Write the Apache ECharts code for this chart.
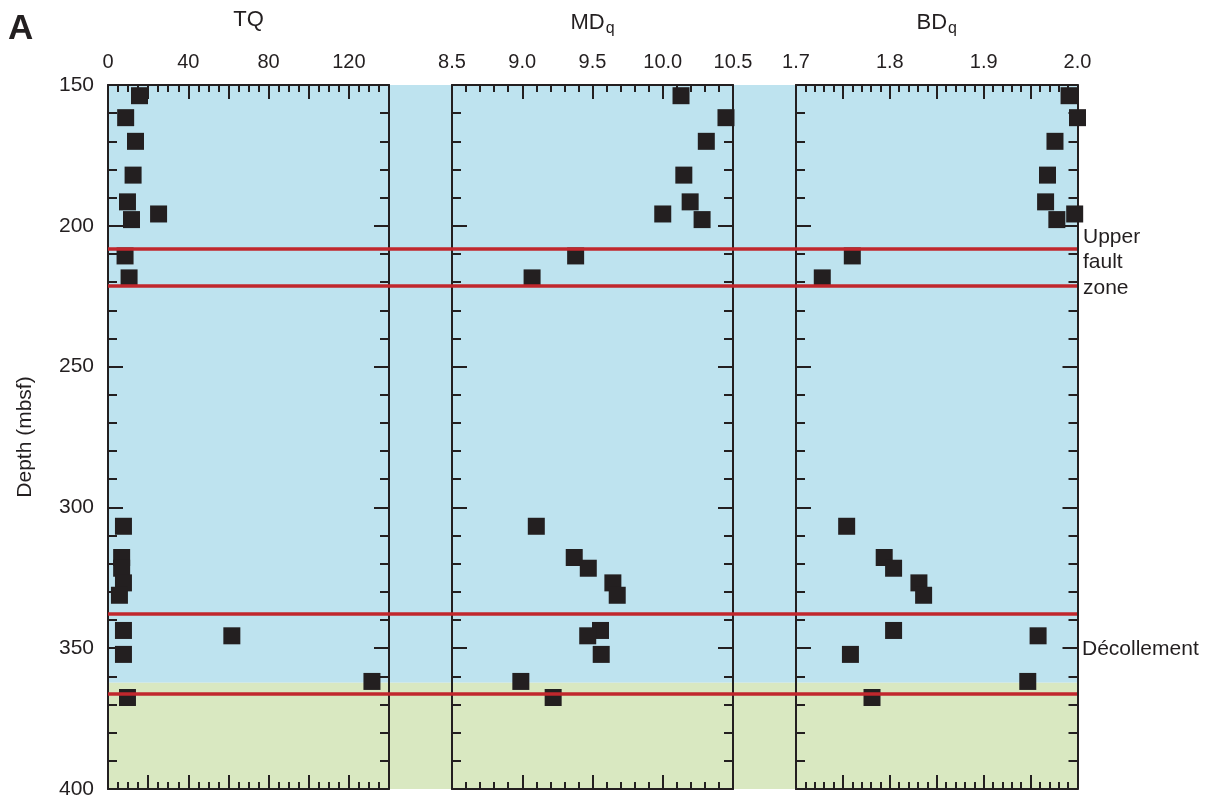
<!DOCTYPE html>
<html>
<head>
<meta charset="utf-8">
<script src="https://cdn.jsdelivr.net/npm/echarts@6/dist/echarts.min.js"></script>
<style>
html,body{margin:0;padding:0;background:#fff;}
#chart{width:1214px;height:802px;}
</style>
</head>
<body>
<div id="chart"></div>
<script>
// ---- data ----
var depth = [153.8, 161.6, 170.0, 182.0, 191.5, 195.8, 197.8, 210.7, 218.5,
             306.7, 317.8, 321.6, 326.8, 331.2, 343.7, 345.6, 352.2, 361.8, 367.5];
var tq = [15.7, 8.8, 13.7, 12.5, 9.7, 25.2, 11.7, 8.5, 10.5,
          7.7, 6.8, 6.8, 7.7, 5.7, 7.7, 61.7, 7.7, 131.5, 9.7];
var mdq = [10.13, 10.45, 10.31, 10.15, 10.195, 10.0, 10.28, 9.38, 9.07,
           9.10, 9.37, 9.47, 9.645, 9.676, 9.557, 9.466, 9.562, 8.99, 9.22];
var bdq = [1.991, 2.0, 1.976, 1.968, 1.966, 1.997, 1.978, 1.760, 1.728,
           1.754, 1.794, 1.804, 1.831, 1.836, 1.804, 1.958, 1.758, 1.947, 1.781];
var faultDepths = [208.3, 221.3, 337.6, 366.2];
var unitBoundary = 362.3;
var depthRange = [150, 400];
var panelNames = ['TQ', 'MD', 'BD'];
var panelRanges = [[0, 140], [8.5, 10.5], [1.7, 2.0]];
var panelTickIntervals = [20, 0.5, 0.05];
var panelLabelSteps = [40, 0.5, 0.1];
var panelMinorSplits = [4, 5, 5];

var INK = '#231F20';
var FONT = 'Liberation Sans, Arial, Helvetica, sans-serif';

var chart = echarts.init(document.getElementById('chart'), null, {renderer: 'canvas'});

var grids = [
  {left: 108, top: 85, width: 969, height: 704, outerBoundsMode: 'none', containLabel: false},
  {left: 108, top: 85, width: 281, height: 704, outerBoundsMode: 'none', containLabel: false},
  {left: 452, top: 85, width: 281, height: 704, outerBoundsMode: 'none', containLabel: false},
  {left: 796, top: 85, width: 281.5, height: 704, outerBoundsMode: 'none', containLabel: false}
];

var xAxes = [{gridIndex: 0, type: 'value', min: 0, max: 1, show: false}];
var yAxes = [{gridIndex: 0, type: 'value', min: depthRange[0], max: depthRange[1], inverse: true, show: false}];

function labelFmt(i) {
  return function (v) {
    var step = panelLabelSteps[i];
    var k = Math.round((v - panelRanges[i][0]) / step * 1000) / 1000;
    if (i === 0) {
      return (Math.abs(v / step - Math.round(v / step)) < 1e-6) ? String(Math.round(v)) : '';
    }
    return (Math.abs(k - Math.round(k)) < 1e-6) ? v.toFixed(1) : '';
  };
}

var axisLineStyle = {lineStyle: {color: INK, width: 2}, onZero: false};

for (var i = 0; i < 3; i++) {
  var g = i + 1;
  var nm = i === 0 ? 'TQ' : ('{a|' + panelNames[i] + '}{b|q}');
  var common = {
    gridIndex: g, type: 'value',
    min: panelRanges[i][0], max: panelRanges[i][1], interval: panelTickIntervals[i],
    axisLine: axisLineStyle,
    axisTick: {show: true, inside: true, length: 14, lineStyle: {color: INK, width: 2}},
    minorTick: {show: true, splitNumber: panelMinorSplits[i], length: 7, lineStyle: {color: INK, width: 2}},
    splitLine: {show: false}, minorSplitLine: {show: false},
    z: 3
  };
  xAxes.push(Object.assign({}, common, {
    position: 'top',
    axisLabel: {show: true, formatter: labelFmt(i), color: INK, fontSize: 20, fontFamily: FONT, margin: 13, showMinLabel: true, showMaxLabel: true},
    name: nm, nameLocation: 'middle', nameGap: i === 0 ? 54 : 50,
    nameTextStyle: {color: INK, fontSize: 22, fontFamily: FONT,
      rich: {a: {fontSize: 22, fontFamily: FONT, color: INK, lineHeight: 24},
             b: {fontSize: 16, fontFamily: FONT, color: INK, lineHeight: 24, padding: [12, 0, 0, 1]}}}
  }));
  xAxes.push(Object.assign({}, common, {
    position: 'bottom', axisLabel: {show: false}
  }));
  var ycommon = {
    gridIndex: g, type: 'value', min: depthRange[0], max: depthRange[1], interval: 50, inverse: true,
    axisLine: axisLineStyle,
    axisTick: {show: true, inside: true, length: 15, lineStyle: {color: INK, width: 2}},
    minorTick: {show: true, splitNumber: 5, length: 9, lineStyle: {color: INK, width: 2}},
    splitLine: {show: false}, minorSplitLine: {show: false},
    z: 3
  };
  yAxes.push(Object.assign({}, ycommon, {
    position: 'left',
    axisLabel: {show: i === 0, color: INK, fontSize: 21, fontFamily: FONT, margin: 14, showMinLabel: true, showMaxLabel: true},
    name: i === 0 ? 'Depth (mbsf)' : '', nameLocation: 'middle', nameGap: 72, nameRotate: 90,
    nameTextStyle: {color: INK, fontSize: 21, fontFamily: FONT}
  }));
  yAxes.push(Object.assign({}, ycommon, {
    position: 'right', axisLabel: {show: false}
  }));
}

var panelValues = [tq, mdq, bdq];
var series = [
  {
    type: 'scatter', xAxisIndex: 0, yAxisIndex: 0, data: [], z: 0, silent: true,
    markArea: {
      silent: true,
      data: [
        [{yAxis: depthRange[0], itemStyle: {color: '#BEE3EF'}}, {yAxis: unitBoundary}],
        [{yAxis: unitBoundary, itemStyle: {color: '#D9E8C1'}}, {yAxis: depthRange[1]}]
      ]
    }
  }
];
for (var j = 0; j < 3; j++) {
  series.push({
    type: 'scatter', xAxisIndex: 1 + j * 2, yAxisIndex: 1 + j * 2,
    symbol: 'rect', symbolSize: 17,
    itemStyle: {color: INK, opacity: 1},
    data: depth.map(function (d, k) { return [panelValues[j][k], d]; }),
    z: 4
  });
}
series.push({
  type: 'scatter', xAxisIndex: 0, yAxisIndex: 0, data: [], z: 6, silent: true,
  markLine: {
    silent: true, symbol: ['none', 'none'], animation: false,
    label: {show: false},
    lineStyle: {color: '#C1272D', width: 3.5, type: 'solid'},
    data: faultDepths.map(function (d) { return {yAxis: d}; })
  }
});

var option = {
  backgroundColor: '#ffffff',
  animation: false,
  grid: grids,
  xAxis: xAxes,
  yAxis: yAxes,
  series: series,
  graphic: [
    {type: 'text', left: 8, top: 12, style: {text: 'A', font: 'bold 35px ' + FONT, fill: INK}},
    {type: 'text', left: 1083, top: 224, style: {text: 'Upper\nfault\nzone', font: '21px ' + FONT, fill: INK, lineHeight: 25.5}},
    {type: 'text', left: 1082, top: 639, style: {text: 'Décollement', font: '21px ' + FONT, fill: INK}}
  ]
};
chart.setOption(option);
</script>
</body>
</html>
